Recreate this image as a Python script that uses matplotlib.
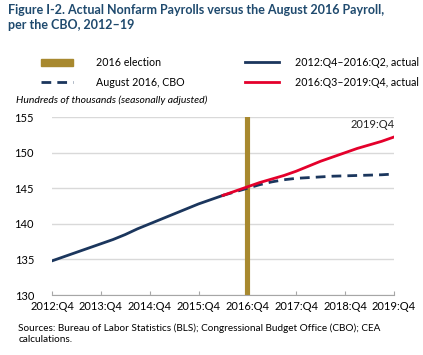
import matplotlib.pyplot as plt
from matplotlib.lines import Line2D
from matplotlib.patches import Rectangle

plt.rcParams['font.family'] = ['Lato', 'DejaVu Sans']

# quarterly, 2012:Q4 .. 2019:Q4
quarters = ['2012:Q4', '2013:Q1', '2013:Q2', '2013:Q3', '2013:Q4', '2014:Q1', '2014:Q2',
            '2014:Q3', '2014:Q4', '2015:Q1', '2015:Q2', '2015:Q3', '2015:Q4', '2016:Q1',
            '2016:Q2', '2016:Q3', '2016:Q4', '2017:Q1', '2017:Q2', '2017:Q3', '2017:Q4',
            '2018:Q1', '2018:Q2', '2018:Q3', '2018:Q4', '2019:Q1', '2019:Q2', '2019:Q3',
            '2019:Q4']
tick_labels = ['2012:Q4', '2013:Q4', '2014:Q4', '2015:Q4', '2016:Q4', '2017:Q4', '2018:Q4', '2019:Q4']

# 2012:Q4 - 2016:Q2 actual
actual_pre = [134.8, 135.4, 136.0, 136.6, 137.2, 137.8, 138.5, 139.3, 140.0, 140.7,
              141.4, 142.1, 142.8, 143.4, 144.0]
# 2016:Q3 - 2019:Q4 actual (starting from 2016:Q2 to connect)
actual_post = [144.0, 144.6, 145.2, 145.8, 146.3, 146.8, 147.4, 148.1, 148.8, 149.4,
               150.0, 150.6, 151.1, 151.6, 152.2]
# August 2016 CBO projection, 2016:Q2 - 2019:Q4
cbo = [144.0, 144.5, 145.0, 145.5, 145.9, 146.2, 146.4, 146.5, 146.6, 146.7,
       146.75, 146.8, 146.85, 146.9, 147.0]
election_q = '2016:Q4'

navy = '#1B365D'
red = '#E4002B'
gold = '#A8892F'
title_col = '#1F4A6E'
dash = (0, (3.5, 2.2))

fig = plt.figure(figsize=(4.23, 3.55), dpi=100)
ax = fig.add_axes([0.123, 0.169, 0.808, 0.501])

x_pre = list(range(len(actual_pre)))
x_post = list(range(len(quarters) - len(actual_post), len(quarters)))
x_cbo = list(range(len(quarters) - len(cbo), len(quarters)))

ax.axvline(quarters.index(election_q), color=gold, lw=3.7, zorder=1)
ax.plot(x_cbo, cbo, color=navy, lw=2, ls=dash, zorder=2)
ax.plot(x_pre, actual_pre, color=navy, lw=2, zorder=3)
ax.plot(x_post, actual_post, color=red, lw=2, zorder=3)

ax.text(x_post[-1] + 0.1, 153.9, '2019:Q4', ha='right', va='center', fontsize=8, color='#222222')

ax.set_xlim(0, len(quarters) - 1)
ax.set_ylim(130, 155)
ax.set_yticks([130, 135, 140, 145, 150, 155])
ax.set_xticks([quarters.index(q) for q in tick_labels])
ax.set_xticklabels(tick_labels)
ax.grid(axis='y', color='#D9D9D9', lw=1)
ax.set_axisbelow(True)
for s in ['top', 'right', 'left']:
    ax.spines[s].set_visible(False)
ax.spines['bottom'].set_color('#A6A6A6')
ax.tick_params(axis='y', length=0, labelsize=8, pad=13)
ax.tick_params(axis='x', direction='in', length=3, color='#A6A6A6', labelsize=8, pad=4)

fig.text(0.019, 0.988, 'Figure I-2. Actual Nonfarm Payrolls versus the August 2016 Payroll,\nper the CBO, 2012\u201319',
         ha='left', va='top', fontsize=9, fontweight='bold', color=title_col, linespacing=1.3)
fig.text(0.038, 0.718, 'Hundreds of thousands (seasonally adjusted)', style='italic', fontsize=7.5,
         ha='left', va='center')
fig.text(0.043, 0.09, 'Sources: Bureau of Labor Statistics (BLS); Congressional Budget Office (CBO); CEA\ncalculations.',
         ha='left', va='top', fontsize=7.2, linespacing=1.35)

# legend, drawn by hand in figure coordinates
row_y = [0.825, 0.769]
fig.patches.append(Rectangle((0.097, row_y[0] - 0.01), 0.076, 0.02, color=gold, transform=fig.transFigure))
fig.lines.append(Line2D([0.097, 0.173], [row_y[1]] * 2, color=navy, lw=2, ls=dash, transform=fig.transFigure))
fig.lines.append(Line2D([0.579, 0.660], [row_y[0]] * 2, color=navy, lw=2, transform=fig.transFigure))
fig.lines.append(Line2D([0.579, 0.660], [row_y[1]] * 2, color=red, lw=2, transform=fig.transFigure))
leg_left = ['2016 election', 'August 2016, CBO']
leg_right = ['2012:Q4\u20132016:Q2, actual', '2016:Q3\u20132019:Q4, actual']
for y, a, b in zip(row_y, leg_left, leg_right):
    fig.text(0.227, y, a, fontsize=7.7, ha='left', va='center')
    fig.text(0.697, y, b, fontsize=7.7, ha='left', va='center')

fig.savefig('out.png', dpi=100)
